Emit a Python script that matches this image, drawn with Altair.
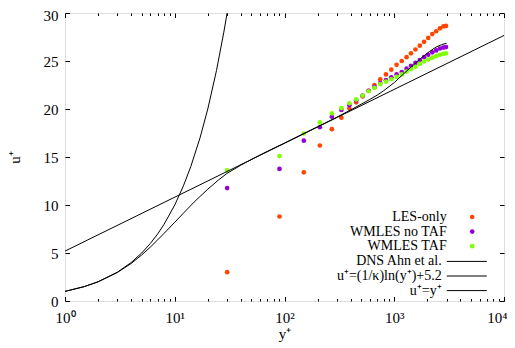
import altair as alt
import pandas as pd

# ---- data ----
yplus_les = [30, 90, 150, 210, 270, 330, 390, 450, 515, 585, 660, 745, 840, 940,
             1050, 1170, 1295, 1420, 1560, 1710, 1870, 2040, 2220, 2410, 2610, 2800, 2960]
u_les_only = [3.0, 8.8, 13.4, 16.2, 17.9, 19.1, 20.05, 20.7, 21.3, 21.9, 22.5, 23.1, 23.6, 24.1,
              24.6, 25.0, 25.4, 25.8, 26.2, 26.6, 27.0, 27.4, 27.8, 28.1, 28.4, 28.6, 28.65]
u_wmles_notaf = [11.76, 13.76, 16.7, 18.1, 19.2, 19.9, 20.4, 20.9, 21.4, 21.9, 22.3, 22.7, 23.0, 23.3,
                 23.6, 23.85, 24.2, 24.5, 24.8, 25.1, 25.4, 25.65, 25.9, 26.1, 26.3, 26.4, 26.45]
u_wmles_taf = [13.6, 15.1, 17.45, 18.6, 19.55, 20.1, 20.6, 21.0, 21.4, 21.85, 22.2, 22.6, 22.85, 23.1,
               23.35, 23.6, 23.9, 24.15, 24.4, 24.7, 24.95, 25.15, 25.35, 25.5, 25.65, 25.75, 25.8]

dns_y = [1, 1.5, 2, 3, 4, 5, 6, 7, 8, 10, 12, 15, 20, 25, 30, 40, 50, 70, 100, 150, 200,
         300, 400, 500, 600, 700, 800, 1000, 1200, 1500, 1800, 2100, 2400, 2700, 3000]
dns_u = [1.0, 1.5, 2.0, 2.97, 3.9, 4.8, 5.62, 6.38, 7.05, 8.2, 9.15, 10.3, 11.65, 12.6, 13.3,
         14.15, 14.75, 15.6, 16.45, 17.45, 18.15, 19.15, 19.9, 20.5, 21.0, 21.45, 21.9, 22.75,
         23.6, 24.6, 25.4, 26.0, 26.45, 26.7, 26.85]

log_y = [1, 10000]
log_u = [5.2, 27.66]

lin_y = [1, 1.5, 2, 3, 4, 5, 6, 7, 8, 10, 12, 14, 17, 20, 24, 28, 30, 32]
lin_u = [1, 1.5, 2, 3, 4, 5, 6, 7, 8, 10, 12, 14, 17, 20, 24, 28, 30, 32]

point_names = ["LES-only", "WMLES no TAF", "WMLES TAF"]
point_colors = ["#ff4500", "#9400d3", "#7fff00"]
line_names = ["DNS Ahn et al.", "u⁺=(1/κ)ln(y⁺)+5.2", "u⁺=y⁺"]

x_major = [1, 10, 100, 1000, 10000]
x_minor = [m * d for d in [1, 10, 100, 1000] for m in range(2, 10)]
y_major = [0, 5, 10, 15, 20, 25, 30]

# ---- tables ----
pts = pd.concat([
    pd.DataFrame({"y": yplus_les, "u": u_les_only, "s": point_names[0]}),
    pd.DataFrame({"y": yplus_les, "u": u_wmles_notaf, "s": point_names[1]}),
    pd.DataFrame({"y": yplus_les, "u": u_wmles_taf, "s": point_names[2]}),
])
lines = pd.concat([
    pd.DataFrame({"y": dns_y, "u": dns_u, "s": line_names[0]}),
    pd.DataFrame({"y": log_y, "u": log_u, "s": line_names[1]}),
    pd.DataFrame({"y": lin_y, "u": lin_u, "s": line_names[2]}),
])

FONT = "Liberation Serif"
FS = 15
LFS = 14
MAJ = 4.5
MIN = 2.5

xscale = alt.Scale(type="log", domain=[1, 10000], nice=False)
yscale = alt.Scale(domain=[0, 30], nice=False, zero=False)

label_expr = "['10⁰','10¹','10²','10³','10⁴'][round(log(datum.value)/LN10)]"

def xax(orient, vals, size, labels=False, title=None):
    kw = dict(orient=orient, values=vals, tickSize=size, offset=-size, domain=False,
              grid=False, tickColor="black", tickWidth=1, labels=labels)
    if labels:
        kw.update(labelExpr=label_expr, labelFont=FONT, labelFontSize=FS,
                  labelColor="black", labelPadding=9, labelFlush=False,
                  labelAlign={"condition": {"test": "datum.value >= 10000", "value": "right"},
                              "value": "center"},
                  labelOffset={"condition": {"test": "datum.value >= 10000", "value": 3},
                               "value": 0})
    if title:
        kw.update(title=title, titleFont=FONT, titleFontSize=FS, titleFontWeight="normal",
                  titleColor="black", titlePadding=1)
    else:
        kw.update(title=None)
    return alt.Axis(**kw)

def yax(orient, labels=False, title=None):
    kw = dict(orient=orient, values=y_major, tickSize=MAJ, offset=-MAJ, domain=False,
              grid=False, tickColor="black", tickWidth=1, labels=labels)
    if labels:
        kw.update(labelFont=FONT, labelFontSize=FS, labelColor="black", labelPadding=7,
                  labelFlush=False,
                  labelOffset={"condition": {"test": "datum.value >= 30", "value": 2.5},
                               "value": 0})
    if title:
        kw.update(title=title, titleFont=FONT, titleFontSize=FS, titleFontWeight="normal",
                  titleColor="black", titlePadding=21)
    else:
        kw.update(title=None)
    return alt.Axis(**kw)

points = alt.Chart(pts).mark_circle(size=22, opacity=1).encode(
    x=alt.X("y:Q", scale=xscale, axis=xax("bottom", x_major, MAJ, labels=True, title="y⁺")),
    y=alt.Y("u:Q", scale=yscale, axis=yax("left", labels=True, title="u⁺")),
    color=alt.Color("s:N", scale=alt.Scale(domain=point_names, range=point_colors),
                    legend=alt.Legend(title=None, orient="none", legendX=400.2, legendY=197.0,
                                      symbolType="circle", symbolSize=22, symbolOpacity=1,
                                      labelAlign="right", labelOffset={"expr": "-32.5"},
                                      labelFont=FONT, labelFontSize=LFS, labelColor="black",
                                      rowPadding=0.6, padding=0)),
)

line_layer = alt.Chart(lines).mark_line(strokeWidth=1, clip=True).encode(
    x=alt.X("y:Q", scale=xscale, axis=xax("bottom", x_minor, MIN)),
    y=alt.Y("u:Q", scale=yscale, axis=yax("right")),
    color=alt.Color("s:N", scale=alt.Scale(domain=line_names, range=["black", "black", "black"]),
                    legend=alt.Legend(title=None, orient="none", legendX=394.8, legendY=241.4,
                                      symbolType="M-4,0H4", symbolSize=100, symbolStrokeWidth=1,
                                      labelAlign="right", labelOffset={"expr": "-32.1"},
                                      labelFont=FONT, labelFontSize=LFS, labelColor="black",
                                      rowPadding=0.6, padding=0)),
    detail="s:N",
)

top_major = alt.Chart(pts).mark_point(opacity=0).encode(
    x=alt.X("y:Q", scale=xscale, axis=xax("top", x_major, MAJ)),
    y=alt.Y("u:Q", scale=yscale, axis=None),
)
top_minor = alt.Chart(pts).mark_point(opacity=0).encode(
    x=alt.X("y:Q", scale=xscale, axis=xax("top", x_minor, MIN)),
    y=alt.Y("u:Q", scale=yscale, axis=None),
)

chart = alt.layer(points, line_layer, top_major, top_minor).resolve_scale(
    color="independent"
).resolve_axis(x="independent", y="independent").properties(
    width=439, height=288,
    padding={"left": 57, "top": 5, "right": 3, "bottom": 44},
    autosize=alt.AutoSizeParams(type="none"),
).configure_view(stroke="black", strokeWidth=1).configure(background="white")

chart.save("out.html", embed_options={"renderer": "svg", "actions": False})
